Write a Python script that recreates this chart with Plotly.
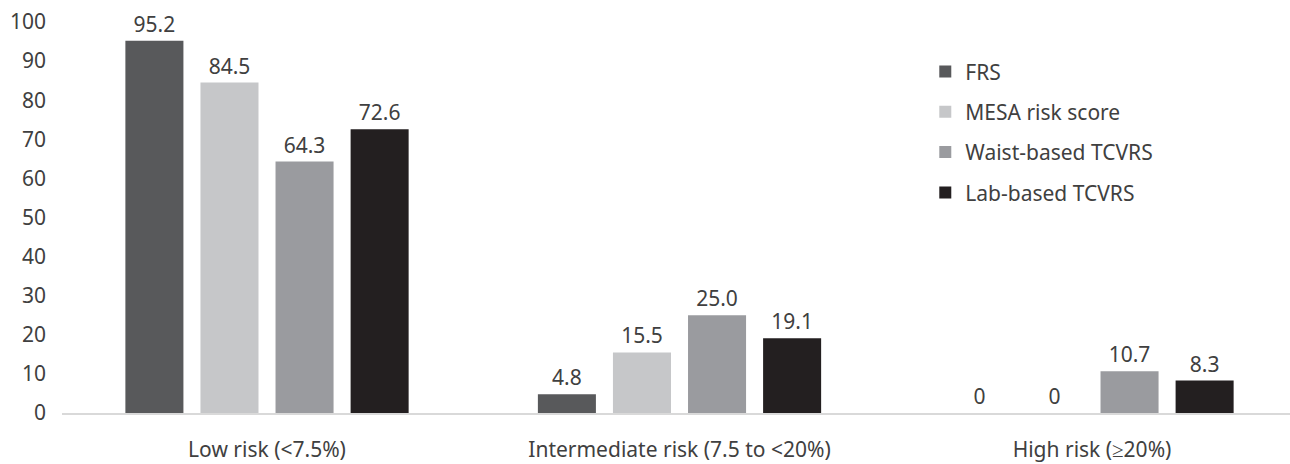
import plotly.graph_objects as go

categories = ["Low risk (<7.5%)", "Intermediate risk (7.5 to <20%)", "High risk (≥20%)"]
series_names = ["FRS", "MESA risk score", "Waist-based TCVRS", "Lab-based TCVRS"]
frs = [95.2, 4.8, 0]
mesa = [84.5, 15.5, 0]
waist = [64.3, 25.0, 10.7]
lab = [72.6, 19.1, 8.3]
labels_frs = ["95.2", "4.8", "0"]
labels_mesa = ["84.5", "15.5", "0"]
labels_waist = ["64.3", "25.0", "10.7"]
labels_lab = ["72.6", "19.1", "8.3"]
y_ticks = list(range(0, 101, 10))

colors = ["#58595b", "#c6c7c9", "#9a9b9f", "#231f20"]
FONT = "Noto Sans"
TXT = "#404040"
FS = 21

fig = go.Figure()
for name, vals, labs, col in zip(series_names, [frs, mesa, waist, lab],
                                  [labels_frs, labels_mesa, labels_waist, labels_lab], colors):
    fig.add_trace(go.Bar(
        x=[0, 1, 2], y=vals, name=name, marker=dict(color=col, line=dict(width=0)),
        text=labs, textposition="outside", cliponaxis=False,
        textfont=dict(family=FONT, size=FS, color=TXT),
        legendgroup=name,
    ))

fig.update_layout(
    width=1290, height=464,
    margin=dict(l=62, r=0, t=22, b=51, autoexpand=False),
    paper_bgcolor="white", plot_bgcolor="white",
    barmode="group", bargap=0.272, bargroupgap=0.227,
    font=dict(family=FONT, size=FS, color=TXT),
    showlegend=True,
    legend=dict(x=0.703, y=0.925, xanchor="left", yanchor="top",
                font=dict(family=FONT, size=FS, color=TXT),
                tracegroupgap=10, itemwidth=30, bgcolor="rgba(0,0,0,0)"),
    xaxis=dict(tickmode="array", tickvals=[0, 1, 2], ticktext=categories,
               range=[-0.497, 2.48], showline=True, linecolor="#d9d9d9", linewidth=1.5,
               showgrid=False, ticks="", tickfont=dict(family=FONT, size=FS, color=TXT),
               ticklabelstandoff=17),
    yaxis=dict(range=[0, 100], tickmode="array", tickvals=y_ticks,
               showgrid=False, zeroline=False, showline=False, ticks="",
               tickfont=dict(family=FONT, size=FS, color=TXT), ticklabelstandoff=15),
)

fig.write_html("out.html")
